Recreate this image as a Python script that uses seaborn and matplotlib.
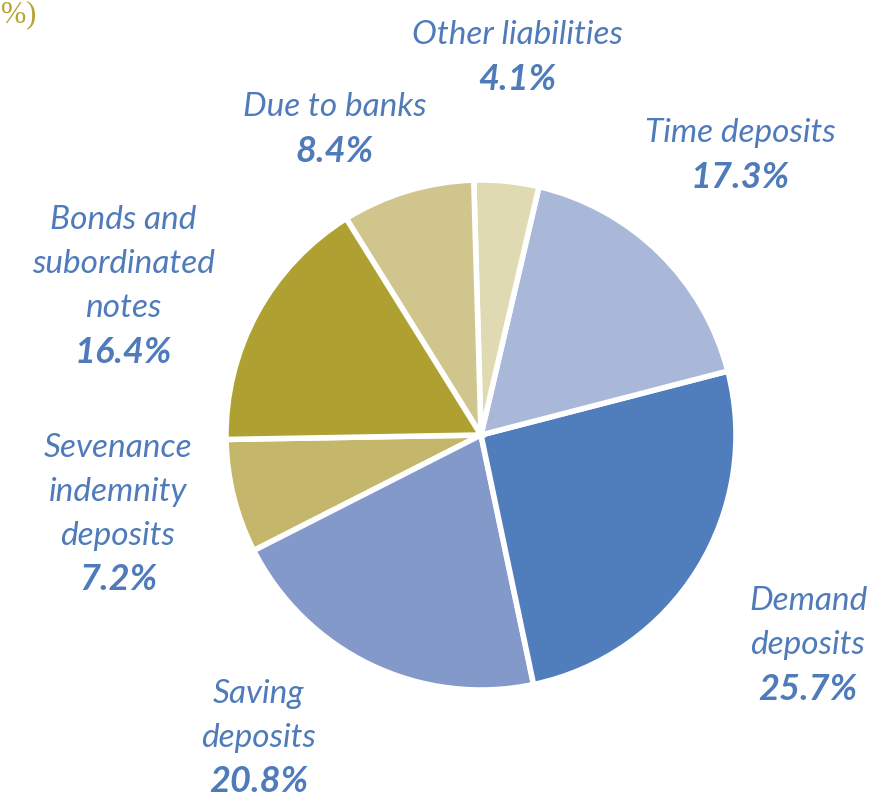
import matplotlib
matplotlib.use("Agg")
import matplotlib.pyplot as plt
import seaborn as sns

sns.set_theme(style="white")
plt.rcParams['font.family'] = ['Lato', 'DejaVu Sans']

categories = ["Sevenance\nindemnity\ndeposits", "Saving\ndeposits", "Demand\ndeposits",
              "Time deposits", "Other liabilities", "Due to banks",
              "Bonds and\nsubordinated\nnotes"]
values = [7.2, 20.8, 25.7, 17.3, 4.1, 8.4, 16.4]
pct_labels = ["7.2%", "20.8%", "25.7%", "17.3%", "4.1%", "8.4%", "16.4%"]
colors = ["#C4B66A", "#8399CA", "#507DBC", "#A9B7D9", "#E0DAB2", "#D0C68D", "#AFA032"]

W, H = 878, 799
fig = plt.figure(figsize=(W / 100, H / 100), dpi=100)
fig.patch.set_facecolor("white")

cx, cy, r = 481, 435, 255
ax = fig.add_axes([(cx - r) / W, (H - cy - r) / H, 2 * r / W, 2 * r / H])
ax.pie(values, colors=colors, startangle=181, counterclock=True, radius=1.0,
       wedgeprops=dict(edgecolor="white", linewidth=4))
ax.set_xlim(-1, 1)
ax.set_ylim(-1, 1)
ax.set_aspect("equal")
ax.axis("off")

text_color = "#4F7BBA"
label_pos = [(118, 448), (259, 694), (808, 601), (740, 133), (517, 35), (335, 107), (123, 220)]
line_h = 44

def px(x, y):
    return x / W, 1 - y / H

for cat, pct, (x, y) in zip(categories, pct_labels, label_pos):
    lines = cat.split("\n")
    for i, ln in enumerate(lines):
        fig.text(*px(x, y + i * line_h), ln, ha="center", va="center",
                 fontsize=24, fontstyle="italic", fontweight="normal", color=text_color)
    fig.text(*px(x, y + len(lines) * line_h), pct, ha="center", va="center",
             fontsize=26, fontstyle="italic", fontweight="bold", color=text_color)

fig.text(*px(1, 15), "%)", ha="left", va="center", fontsize=22,
         color="#B5A534", family="Liberation Serif")

fig.savefig("out.png", dpi=100, facecolor="white")
